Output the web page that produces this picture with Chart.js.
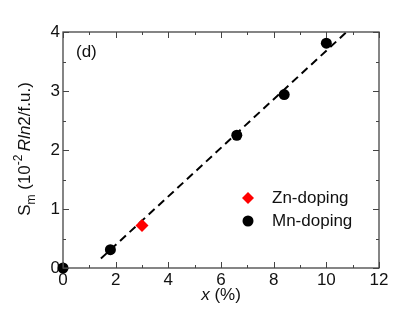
<!DOCTYPE html>
<html>
<head>
<meta charset="utf-8">
<script src="https://cdn.jsdelivr.net/npm/chart.js@4.4.0/dist/chart.umd.min.js"></script>
<style>
  html, body { margin: 0; padding: 0; background: #fff; }
  #wrap { width: 409px; height: 316px; }
</style>
</head>
<body>
<div id="wrap"><canvas id="myChart" width="409" height="316"></canvas></div>
<script>
// data
const mnX = [0, 1.8, 6.6, 8.4, 10];
const mnY = [0, 0.31, 2.25, 2.94, 3.81];
const znX = [3];
const znY = [0.72];
// dashed linear fit, end points
const fitX = [1.44, 10.77];
const fitY = [0.16, 4.0];

const xTicks = [0, 2, 4, 6, 8, 10, 12];
const yTicks = [0, 1, 2, 3, 4];

const FONT = "'Liberation Sans', Arial, sans-serif";
const ink = '#111';

const toPts = (xs, ys) => xs.map((x, i) => ({ x: x, y: ys[i] }));

// draws a list of text runs one after another along the baseline
function drawRuns(ctx, runs, x0, y0) {
    let x = x0;
    runs.forEach(r => {
        ctx.font = (r.italic ? 'italic ' : '') + r.size + 'px ' + FONT;
        ctx.fillText(r.t, x, y0 + (r.dy || 0));
        x += ctx.measureText(r.t).width;
    });
}
function runsWidth(ctx, runs) {
    let w = 0;
    runs.forEach(r => {
        ctx.font = (r.italic ? 'italic ' : '') + r.size + 'px ' + FONT;
        w += ctx.measureText(r.t).width;
    });
    return w;
}

const framePlugin = {
    id: 'frame',
    afterDatasetsDraw(chart) {
        const ctx = chart.ctx;
        const a = chart.chartArea;
        const xs = chart.scales.x, ys = chart.scales.y;
        ctx.save();
        ctx.strokeStyle = '#444';
        ctx.lineWidth = 1.3;
        ctx.strokeRect(a.left, a.top, a.right - a.left, a.bottom - a.top);

        // inward ticks on all four sides
        ctx.lineWidth = 1;
        ctx.beginPath();
        for (let v = 0; v <= 12; v += 1) {
            const px = Math.round(xs.getPixelForValue(v)) + 0.5;
            const len = v % 2 === 0 ? 6 : 3;
            ctx.moveTo(px, a.bottom); ctx.lineTo(px, a.bottom - len);
            ctx.moveTo(px, a.top); ctx.lineTo(px, a.top + len);
        }
        for (let v = 0; v <= 4; v += 0.5) {
            const py = Math.round(ys.getPixelForValue(v)) + 0.5;
            const len = v % 1 === 0 ? 6 : 3;
            ctx.moveTo(a.left, py); ctx.lineTo(a.left + len, py);
            ctx.moveTo(a.right, py); ctx.lineTo(a.right - len, py);
        }
        ctx.stroke();
        ctx.restore();
    },
    afterDraw(chart) {
        const ctx = chart.ctx;
        const a = chart.chartArea;
        ctx.save();
        ctx.fillStyle = ink;
        ctx.textBaseline = 'alphabetic';

        // x title
        const xRuns = [
            { t: 'x', size: 17, italic: true },
            { t: ' (%)', size: 17 }
        ];
        const xw = runsWidth(ctx, xRuns);
        drawRuns(ctx, xRuns, (a.left + a.right) / 2 - xw / 2, 300);

        // y title, rotated
        const yRuns = [
            { t: 'S', size: 17 },
            { t: 'm', size: 12, dy: 5 },
            { t: ' (10', size: 17 },
            { t: '-2', size: 12, dy: -8 },
            { t: ' ', size: 12 },
            { t: 'R', size: 17, italic: true },
            { t: 'ln', size: 17, italic: true },
            { t: '2/f.u.)', size: 17 }
        ];
        const yw = runsWidth(ctx, yRuns);
        ctx.save();
        ctx.translate(30, 149);
        ctx.rotate(-Math.PI / 2);
        drawRuns(ctx, yRuns, -yw / 2, 0);
        ctx.restore();

        // panel tag
        ctx.font = '17px ' + FONT;
        ctx.textBaseline = 'middle';
        ctx.fillText('(d)', 76, 52);

        // legend
        const lx = 248;
        ctx.fillStyle = '#ff0000';
        ctx.beginPath();
        ctx.moveTo(lx, 198 - 6); ctx.lineTo(lx + 6, 198);
        ctx.lineTo(lx, 198 + 6); ctx.lineTo(lx - 6, 198);
        ctx.closePath(); ctx.fill();
        ctx.fillStyle = '#000';
        ctx.beginPath();
        ctx.arc(lx, 221, 5.5, 0, Math.PI * 2);
        ctx.fill();
        ctx.fillStyle = ink;
        ctx.fillText('Zn-doping', 272, 198);
        ctx.fillText('Mn-doping', 272, 221);
        ctx.restore();
    }
};

const data = {
    datasets: [{
        label: 'fit',
        data: toPts(fitX, fitY),
        showLine: true,
        borderColor: '#000',
        borderWidth: 2,
        borderDash: [8, 5],
        pointRadius: 0,
        clip: false,
        order: 3
    }, {
        label: 'Zn-doping',
        data: toPts(znX, znY),
        pointStyle: 'rectRot',
        pointRadius: 6.5,
        backgroundColor: '#ff0000',
        borderColor: '#ff0000',
        borderWidth: 0,
        clip: false,
        order: 1
    }, {
        label: 'Mn-doping',
        data: toPts(mnX, mnY),
        pointStyle: 'circle',
        pointRadius: 5.5,
        backgroundColor: '#000',
        borderColor: '#000',
        borderWidth: 0,
        clip: false,
        order: 2
    }]
};

const config = {
    type: 'scatter',
    data,
    options: {
        responsive: false,
        animation: false,
        devicePixelRatio: 1,
        layout: { autoPadding: false, padding: { top: 32, right: 30, left: 0, bottom: 0 } },
        plugins: { legend: { display: false }, tooltip: { enabled: false } },
        scales: {
            x: {
                type: 'linear', min: 0, max: 12,
                afterFit: s => { s.height = 48; },
                afterBuildTicks: s => { s.ticks = xTicks.map(v => ({ value: v })); },
                grid: { display: false, drawTicks: false },
                border: { display: false },
                ticks: { padding: 2, color: ink, font: { family: FONT, size: 17 } }
            },
            y: {
                type: 'linear', min: 0, max: 4,
                afterFit: s => { s.width = 63; },
                afterBuildTicks: s => { s.ticks = yTicks.map(v => ({ value: v })); },
                grid: { display: false, drawTicks: false },
                border: { display: false },
                ticks: { padding: 3, color: ink, font: { family: FONT, size: 17 } }
            }
        }
    },
    plugins: [framePlugin]
};

var myChart = new Chart(document.getElementById('myChart'), config);
</script>
</body>
</html>
